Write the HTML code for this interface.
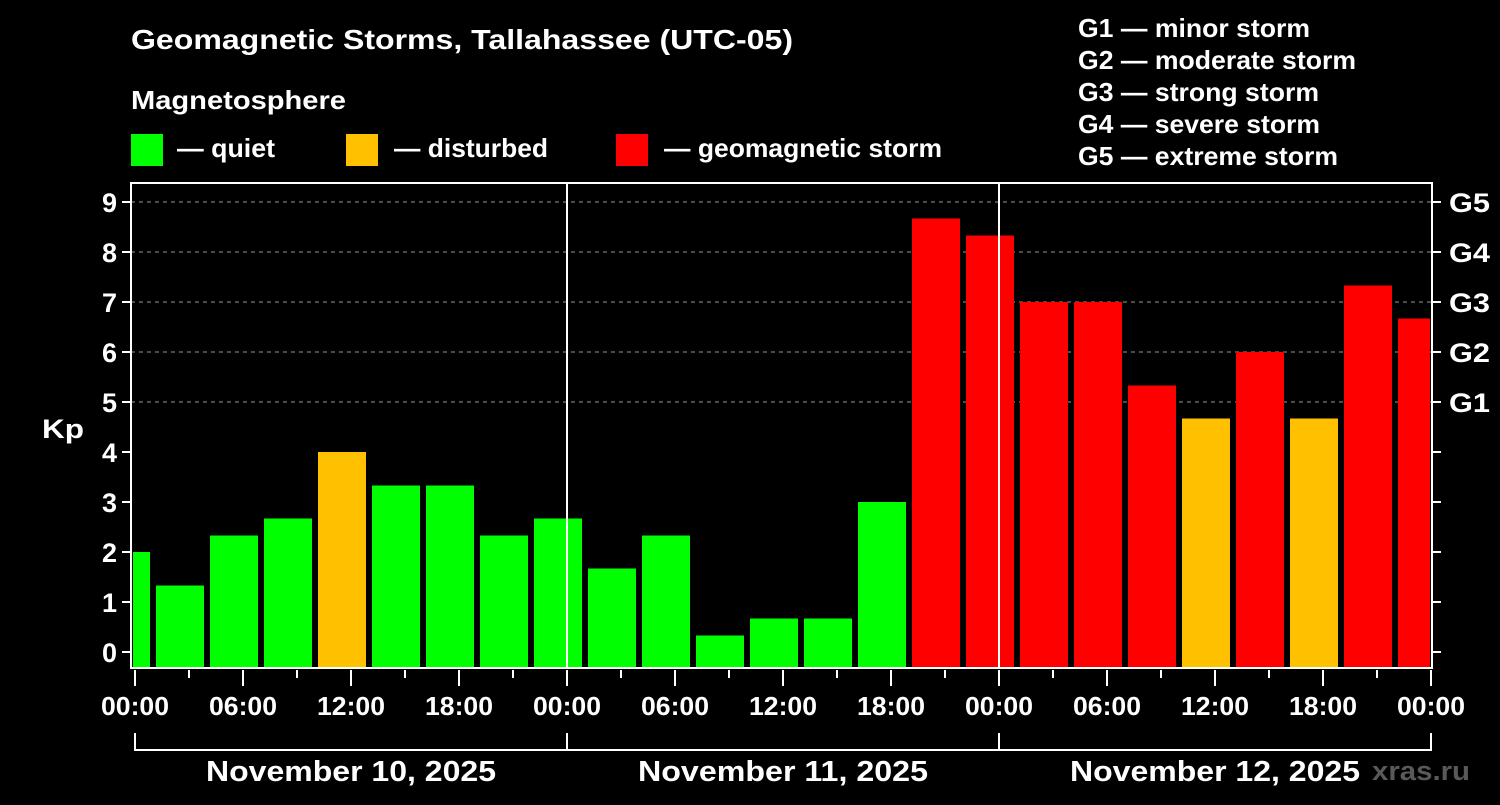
<!DOCTYPE html>
<html><head><meta charset="utf-8"><style>
body{margin:0;background:#000;}
svg text{font-family:"Liberation Sans",Arial,sans-serif;font-weight:bold;fill:#fff;}
</style></head><body>
<svg id="chart" width="1500" height="800" viewBox="0 0 1500 800" xmlns="http://www.w3.org/2000/svg">
<rect width="1500" height="800" fill="#000"/>
<text x="131" y="49" font-size="28" textLength="662" lengthAdjust="spacingAndGlyphs">Geomagnetic Storms, Tallahassee (UTC-05)</text>
<text x="131" y="109" font-size="26" textLength="215" lengthAdjust="spacingAndGlyphs">Magnetosphere</text>
<g>
<rect x="131" y="134" width="32" height="32" fill="#00ff00"/>
<text x="177" y="157" font-size="26" textLength="98" lengthAdjust="spacingAndGlyphs">— quiet</text>
<rect x="346" y="134" width="32" height="32" fill="#ffc000"/>
<text x="394" y="157" font-size="26" textLength="154" lengthAdjust="spacingAndGlyphs">— disturbed</text>
<rect x="616" y="134" width="32" height="32" fill="#ff0000"/>
<text x="664" y="157" font-size="26" textLength="278" lengthAdjust="spacingAndGlyphs">— geomagnetic storm</text>
</g>
<g font-size="26">
<text x="1078" y="37" textLength="232" lengthAdjust="spacingAndGlyphs">G1 — minor storm</text>
<text x="1078" y="69" textLength="278" lengthAdjust="spacingAndGlyphs">G2 — moderate storm</text>
<text x="1078" y="101" textLength="241" lengthAdjust="spacingAndGlyphs">G3 — strong storm</text>
<text x="1078" y="133" textLength="242" lengthAdjust="spacingAndGlyphs">G4 — severe storm</text>
<text x="1078" y="165" textLength="260" lengthAdjust="spacingAndGlyphs">G5 — extreme storm</text>
</g>
<text x="42" y="438" font-size="27" textLength="42" lengthAdjust="spacingAndGlyphs">Kp</text>
<g id="grid"></g><g id="bars"></g><g id="axes"></g>
<text x="1372" y="780" font-size="27" textLength="98" lengthAdjust="spacingAndGlyphs" style="fill:#595959">xras.ru</text>
</svg>
<script>
const kpValues=[2.0,1.33,2.33,2.67,4.0,3.33,3.33,2.33,2.67,1.67,2.33,0.33,0.67,0.67,3.0,8.67,8.33,7.0,7.0,5.33,4.67,6.0,4.67,7.33,6.67];
const startHours=[-2,1,4,7,10,13,16,19,22,25,28,31,34,37,40,43,46,49,52,55,58,61,64,67,70];
const yTicks=[0,1,2,3,4,5,6,7,8,9];
const gLabels=["G1","G2","G3","G4","G5"];
const xTickLabels=["00:00","06:00","12:00","18:00","00:00","06:00","12:00","18:00","00:00","06:00","12:00","18:00","00:00"];
const dayLabels=["November 10, 2025","November 11, 2025","November 12, 2025"];
const NS="http://www.w3.org/2000/svg";
const X0=135,PXH=18,Y0=652,PXU=50,L=131,R=1432,T=183,B=668;
const xs=h=>X0+h*PXH, ys=v=>Y0-v*PXU;
function mk(p,tag,a){const e=document.createElementNS(NS,tag);for(const k in a)e.setAttribute(k,a[k]);document.getElementById(p).appendChild(e);return e;}
yTicks.filter(v=>v>=5).forEach(v=>{
 const e=mk('grid','line',{x1:L,x2:R,y1:ys(v),y2:ys(v),stroke:'#999','stroke-dasharray':'4,4','stroke-width':1});
 
 
});
kpValues.forEach((v,i)=>{
 let a=xs(startHours[i])+3,b=xs(startHours[i]+3)-3;
 a=Math.max(a,L+2);b=Math.min(b,R-2);
 const c=v>=5?'#ff0000':(v>=4?'#ffc000':'#00ff00');
 const e=mk('bars','rect',{x:a,y:ys(v),width:b-a,height:B-ys(v),fill:c});
 
 
});
const f=mk('axes','rect',{x:L,y:T,width:R-L,height:B-T,fill:'none',stroke:'#fff','stroke-width':2});


[24,48].forEach(h=>{const e=mk('axes','line',{x1:xs(h),x2:xs(h),y1:T,y2:B,stroke:'#fff','stroke-width':2});
 
 });
yTicks.forEach(v=>{
 mk('axes','line',{x1:L-9,x2:L,y1:ys(v),y2:ys(v),stroke:'#fff','stroke-width':2});
 mk('axes','line',{x1:R,x2:R+9,y1:ys(v),y2:ys(v),stroke:'#fff','stroke-width':2});
 const t=mk('axes','text',{x:L-14,y:ys(v)+10,'font-size':27,'text-anchor':'end'});t.textContent=v;
 
 
 if(v>=5){const g=mk('axes','text',{x:R+17,y:ys(v)+10,'font-size':27,textLength:41,lengthAdjust:'spacingAndGlyphs'});g.textContent=gLabels[v-5];
 
 }
});
for(let h=0;h<=72;h+=3){mk('axes','line',{x1:xs(h),x2:xs(h),y1:B+2,y2:B+(h%6?10:18),stroke:'#fff','stroke-width':2});}
xTickLabels.forEach((s,i)=>{const t=mk('axes','text',{x:xs(i*6),y:715,'font-size':26,'text-anchor':'middle',textLength:68,lengthAdjust:'spacingAndGlyphs'});t.textContent=s;
 
 });
dayLabels.forEach((s,i)=>{
 const a=xs(i*24),b=xs(i*24+24);
 mk('axes','path',{d:`M${a},733V750H${b}V733`,fill:'none',stroke:'#fff','stroke-width':2});
 const t=mk('axes','text',{x:(a+b)/2,y:781,'font-size':29,'text-anchor':'middle',textLength:290,lengthAdjust:'spacingAndGlyphs'});t.textContent=s;
 
 
});
</script>
</body></html>
